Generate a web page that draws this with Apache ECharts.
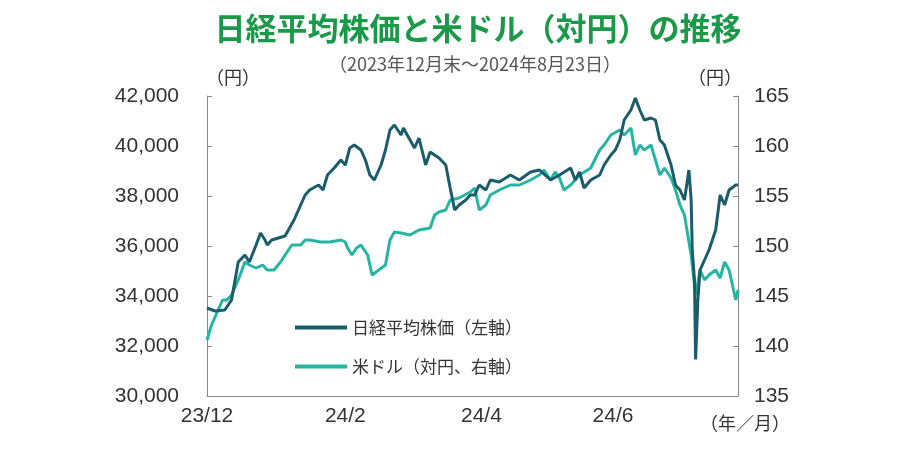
<!DOCTYPE html>
<html><head><meta charset="utf-8">
<script src="https://cdn.jsdelivr.net/npm/echarts@6/dist/echarts.min.js"></script>
<style>html,body{margin:0;background:#fff}#c{width:900px;height:450px}</style>
</head><body><div id="c"></div>
<script>
// x = days since 2023-12-29
const tickDays = [0, 62, 123, 182];
const tickLabels = ['23/12', '24/2', '24/4', '24/6'];
const nikkeiData = [[0,33520],[3.6,33400],[8,33440],[11,33840],[14,35360],[17,35640],[19,35360],[22,36040],[24,36520],[26,36240],[27,36040],[29,36240],[32,36320],[35,36400],[37,36720],[39,37040],[42,37640],[44,38040],[46,38240],[50,38440],[52,38240],[54,38840],[57,39120],[60,39440],[62,39240],[64,39920],[66,40040],[69,39840],[71,39440],[73,38840],[75,38640],[78,39240],[80,39840],[82,40640],[84,40840],[87,40440],[88,40720],[91,40240],[93,39920],[95,40320],[98,39240],[100,39760],[102,39640],[104,39520],[107,39240],[109,38320],[111,37440],[113,37640],[116,37840],[118,38040],[120,38040],[122,38440],[125,38240],[127,38640],[131,38560],[136,38840],[140,38640],[145,38960],[149,39040],[154,38640],[158,38840],[163,39120],[165,38640],[167,38960],[169,38320],[172,38640],[176,38840],[178,39240],[181,39640],[183,39840],[185,40240],[187,41040],[190,41440],[192,41920],[194,41440],[196,41040],[199,41120],[201,41040],[203,40240],[205,40040],[208,39240],[210,38440],[212,38240],[214,37840],[216,39040],[217,37840],[217.5,35840],[218.5,34640],[219,31460],[220,33840],[221,35040],[223,35440],[225,35840],[228,36640],[230,38040],[232,37640],[234,38240],[237,38440],[238,38440]];
const usdjpyData = [[0,140.6],[2,142.1],[5,143.6],[7,144.6],[9,144.6],[11,145.1],[14,146.6],[17,148.4],[19,148.1],[22,147.8],[25,148.1],[27,147.6],[30,147.6],[33,148.4],[35,149.1],[38,150.1],[42,150.1],[44,150.6],[46,150.6],[51,150.4],[55,150.4],[60,150.6],[62,150.4],[63,149.8],[65,149.1],[67,149.8],[69,150.1],[72,149.1],[74,147.1],[77,147.6],[80,148.1],[82,150.6],[84,151.4],[87,151.3],[91,151.1],[95,151.6],[100,151.8],[102,153.1],[104,153.4],[107,153.6],[109,154.6],[113,154.8],[118,155.4],[120,155.8],[122,153.6],[125,154.1],[127,155.1],[131,155.6],[136,156.1],[140,156.1],[145,156.6],[149,157.1],[151,157.6],[154,156.6],[156,157.4],[158,156.8],[160,155.6],[163,156.1],[165,156.6],[167,157.1],[172,157.8],[176,159.6],[178,160.1],[181,161.1],[185,161.6],[187,161.1],[190,161.8],[192,159.1],[194,160.1],[196,159.6],[199,160.1],[201,158.6],[203,157.1],[205,157.8],[208,156.8],[210,155.6],[212,154.1],[214,153.1],[217,149.1],[217.5,148.1],[219,145.1],[221,147.6],[223,146.6],[225,147.1],[228,147.6],[230,146.8],[232,148.4],[234,147.6],[237,144.6],[238,145.6]];
const c1 = '#1b5c6b', c2 = '#25b5a2', tc = '#333';
const chart = echarts.init(document.getElementById('c'));
const font = '"Noto Sans CJK JP", "Noto Sans", sans-serif';
const numFont = '"Liberation Sans", Arial, sans-serif';
chart.setOption({
  animation: false,
  textStyle: {fontFamily: font},
  title: [
    {text: '日経平均株価と米ドル（対円）の推移', left: 473, top: 8, textAlign: 'center', textStyle: {color: '#1a9a48', fontSize: 31, fontWeight: 'bold', fontFamily: font}},
    {text: '（2023年12月末～2024年8月23日）', left: 470, top: 50, textAlign: 'center', textStyle: {color: '#555', fontSize: 18, fontWeight: 'normal', fontFamily: font}}
  ],
  graphic: [
    {type: 'text', left: 206, top: 68, style: {text: '（円）', fill: tc, font: '18px ' + font}},
    {type: 'text', left: 688, top: 68, style: {text: '（円）', fill: tc, font: '18px ' + font}},
    {type: 'text', left: 700, top: 414, style: {text: '（年／月）', fill: tc, font: '18px ' + font}}
  ],
  legend: {orient: 'vertical', left: 290, top: 314, itemGap: 22, itemWidth: 52, itemHeight: 4, icon: 'rect',
    textStyle: {fontSize: 17, color: tc, fontFamily: font},
    data: ['日経平均株価（左軸）', '米ドル（対円、右軸）']},
  grid: {left: 207, right: 162, top: 96, bottom: 54},
  xAxis: {type: 'value', min: 0, max: 238,
    axisLine: {show: true, lineStyle: {color: '#888'}}, splitLine: {show: false},
    axisTick: {show: false},
    axisLabel: {customValues: tickDays, fontSize: 21, color: tc, margin: 10, fontFamily: numFont,
      formatter: v => tickLabels[tickDays.indexOf(v)] || ''}},
  yAxis: [
    {type: 'value', min: 30000, max: 42000, interval: 2000, splitLine: {show: false},
      axisLine: {show: true, lineStyle: {color: '#888'}}, axisTick: {show: true, inside: true, lineStyle: {color: '#888'}},
      axisLabel: {fontSize: 21, color: tc, margin: 28, fontFamily: numFont, formatter: v => v.toLocaleString('en-US')}},
    {type: 'value', min: 135, max: 165, interval: 5, position: 'right', splitLine: {show: false},
      axisLine: {show: true, lineStyle: {color: '#888'}}, axisTick: {show: true, inside: true, lineStyle: {color: '#888'}},
      axisLabel: {fontSize: 21, color: tc, margin: 16, fontFamily: numFont}}
  ],
  series: [
    {name: '米ドル（対円、右軸）', type: 'line', yAxisIndex: 1, data: usdjpyData, showSymbol: false, lineStyle: {color: c2, width: 3}, itemStyle: {color: c2}},
    {name: '日経平均株価（左軸）', type: 'line', yAxisIndex: 0, data: nikkeiData, showSymbol: false, lineStyle: {color: c1, width: 3}, itemStyle: {color: c1}}
  ]
});
</script></body></html>
